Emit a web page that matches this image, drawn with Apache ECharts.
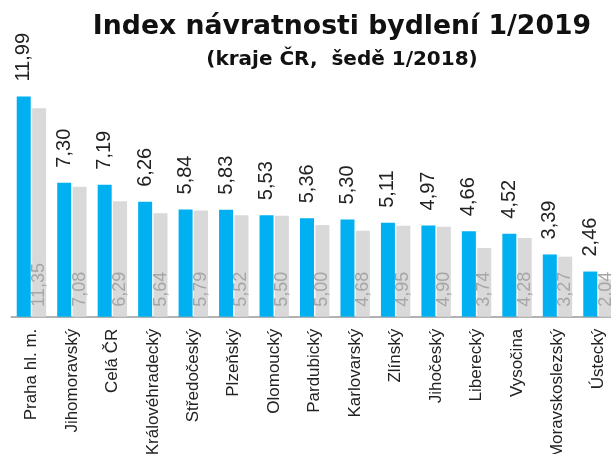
<!DOCTYPE html>
<html>
<head>
<meta charset="utf-8">
<script src="https://cdn.jsdelivr.net/npm/echarts@6/dist/echarts.min.js"></script>
<style>
  html, body { margin: 0; padding: 0; background: #fff; }
  #chart { width: 611px; height: 454px; }
</style>
</head>
<body>
<div id="chart"></div>
<script>
const regions = ['Praha hl. m.', 'Jihomoravský', 'Celá ČR', 'Královéhradecký', 'Středočeský',
  'Plzeňský', 'Olomoucký', 'Pardubický', 'Karlovarský', 'Zlínský', 'Jihočeský',
  'Liberecký', 'Vysočina', 'Moravskoslezský', 'Ústecký'];
const index2019 = [11.99, 7.30, 7.19, 6.26, 5.84, 5.83, 5.53, 5.36, 5.30, 5.11, 4.97, 4.66, 4.52, 3.39, 2.46];
const index2018 = [11.35, 7.08, 6.29, 5.64, 5.79, 5.52, 5.50, 5.00, 4.68, 4.95, 4.90, 3.74, 4.28, 3.27, 2.04];

// czech decimal comma
const fmt = p => p.value.toFixed(2).replace('.', ',');

const chart = echarts.init(document.getElementById('chart'));

chart.setOption({
  animation: false,
  title: {
    text: 'Index návratnosti bydlení 1/2019',
    subtext: '(kraje ČR,  šedě 1/2018)',
    left: 337,
    top: 9,
    textAlign: 'center',
    itemGap: 9,
    textStyle: { fontFamily: 'DejaVu Sans', fontWeight: 'bold', fontSize: 26.7, color: '#111' },
    subtextStyle: { fontFamily: 'DejaVu Sans', fontWeight: 'bold', fontSize: 20, color: '#111' }
  },
  // grid runs past the right edge, last bar is cut like in the source
  grid: { left: 11.2, top: 78, width: 607, height: 238.7, outerBoundsMode: 'none', containLabel: false },
  xAxis: {
    type: 'category',
    data: regions,
    axisTick: { show: false },
    axisLine: { lineStyle: { color: '#999', width: 1.5 } },
    axisLabel: {
      rotate: 90,
      margin: 12,
      interval: 0,
      fontFamily: 'Liberation Sans',
      fontSize: 17,
      color: '#222'
    }
  },
  yAxis: {
    type: 'value',
    min: 0,
    max: 13,
    show: false,
    splitLine: { show: false }
  },
  series: [
    {
      name: '1/2019',
      type: 'bar',
      data: index2019,
      barWidth: 14,
      barGap: '10%',
      itemStyle: { color: '#00b0f0' },
      label: {
        show: true,
        position: 'top',
        distance: 15,
        rotate: 90,
        align: 'left',
        verticalAlign: 'middle',
        formatter: fmt,
        fontFamily: 'Liberation Sans',
        fontSize: 20,
        color: '#222'
      }
    },
    {
      name: '1/2018',
      type: 'bar',
      data: index2018,
      barWidth: 14,
      itemStyle: { color: '#d9d9d9' },
      label: {
        show: true,
        position: 'insideBottom',
        distance: 10,
        rotate: 90,
        align: 'left',
        verticalAlign: 'middle',
        formatter: fmt,
        fontFamily: 'Liberation Sans',
        fontSize: 18,
        color: '#a6a6a6'
      }
    }
  ]
});
</script>
</body>
</html>
